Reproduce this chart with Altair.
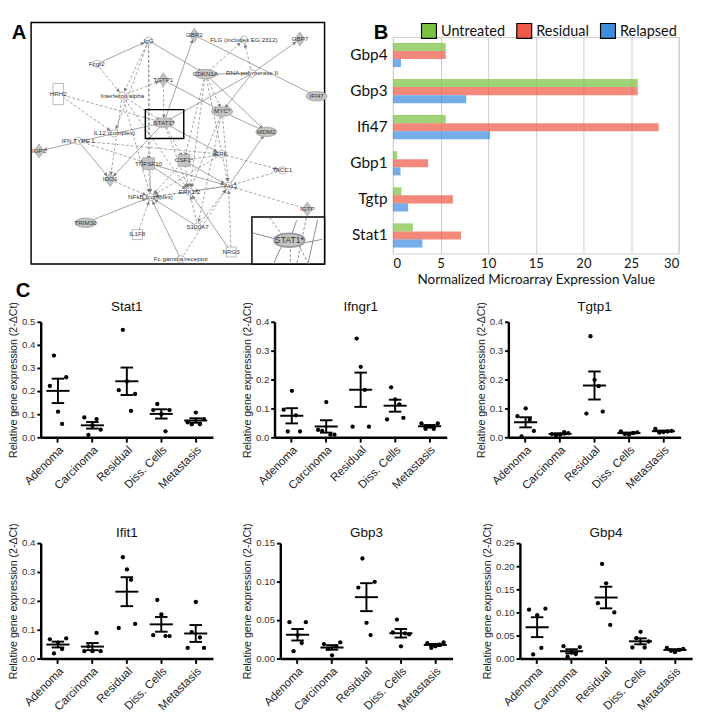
import altair as alt
import pandas as pd

FC = "Liberation Sans"
FB = "Lato"

panel_labels = ["A", "B", "C"]

# ---------------- Panel A : network ----------------
node_names = ["IgG", "GBP2", "FLG (includes EG:2312)", "GBP7", "Fcgr2", "TGTP1", "CDKN1A",
              "RNA polymerase II", "HRH2", "Interferon alpha", "IFI47", "MYC*", "STAT1*", "MDM2",
              "IL12 (complex)", "IFN TYPE 1", "IGP1", "TNFSF10", "CSF1*", "ERK", "TACC1", "IDO1",
              "ERK1/2", "Akt", "NFkB (complex)", "IGTP", "TRIM30", "S100A7", "IL1F8", "NRG3",
              "Fc gamma receptor"]
node_x = [462, 605, 760, 935, 300, 508, 640, 785, 180, 380, 987, 692, 510, 830, 355, 242, 120,
          462, 573, 690, 880, 342, 590, 712, 468, 958, 265, 615, 427, 720, 563]
node_y = [75, 58, 72, 70, 148, 198, 180, 178, 243, 248, 250, 298, 333, 362, 367, 390, 422, 462,
          452, 432, 483, 512, 550, 532, 567, 605, 648, 660, 685, 740, 763]
node_kind = ["circle", "diamond", "circle", "diamond", "circle", "diamond", "ellipse", "circle",
             "rect", "circle", "ellipse", "ellipse", "ellipse", "ellipse", "circle", "circle",
             "diamond", "square", "square", "circle", "circle", "diamond", "circle", "circle",
             "circle", "diamond", "ellipse", "circle", "box", "box", "circle"]

edges = [
    ("Fcgr2", "IgG", "s"), ("IgG", "CDKN1A", "s"), ("IgG", "Interferon alpha", "d"),
    ("IgG", "IL12 (complex)", "d"), ("IgG", "NFkB (complex)", "d"), ("IgG", "TNFSF10", "d"),
    ("Fcgr2", "Interferon alpha", "d"), ("HRH2", "STAT1*", "d"), ("HRH2", "IL12 (complex)", "d"),
    ("Interferon alpha", "TGTP1", "d"), ("Interferon alpha", "STAT1*", "d"),
    ("Interferon alpha", "IDO1", "d"), ("Interferon alpha", "NFkB (complex)", "d"),
    ("Interferon alpha", "ERK1/2", "d"), ("TGTP1", "STAT1*", "d"), ("TGTP1", "MYC*", "s"),
    ("STAT1*", "GBP2", "s"), ("IL12 (complex)", "STAT1*", "s"), ("STAT1*", "IDO1", "s"),
    ("RNA polymerase II", "STAT1*", "s"), ("STAT1*", "ERK", "s"), ("STAT1*", "CSF1*", "d"),
    ("STAT1*", "ERK1/2", "d"), ("IL12 (complex)", "IGP1", "s"), ("IFN TYPE 1", "IDO1", "s"),
    ("IFN TYPE 1", "ERK", "d"), ("IFN TYPE 1", "TNFSF10", "d"),
    ("RNA polymerase II", "CDKN1A", "s"), ("CDKN1A", "MYC*", "d"), ("CDKN1A", "CSF1*", "d"),
    ("CDKN1A", "FLG (includes EG:2312)", "d"), ("CDKN1A", "MDM2", "s"), ("CDKN1A", "Akt", "d"),
    ("CDKN1A", "ERK1/2", "d"), ("RNA polymerase II", "GBP7", "s"), ("RNA polymerase II", "MYC*", "s"),
    ("RNA polymerase II", "FLG (includes EG:2312)", "d"), ("GBP2", "IFI47", "s"),
    ("MYC*", "MDM2", "s"), ("MYC*", "Akt", "d"), ("MYC*", "ERK1/2", "d"), ("MYC*", "S100A7", "d"),
    ("Akt", "MDM2", "s"), ("ERK", "TACC1", "d"), ("ERK", "NFkB (complex)", "d"), ("CSF1*", "ERK", "d"),
    ("TACC1", "Akt", "d"), ("TNFSF10", "NFkB (complex)", "d"), ("TNFSF10", "ERK1/2", "s"),
    ("TNFSF10", "Akt", "s"), ("CSF1*", "ERK1/2", "d"), ("CSF1*", "Akt", "s"),
    ("CSF1*", "NFkB (complex)", "d"), ("IDO1", "NFkB (complex)", "d"), ("ERK1/2", "NFkB (complex)", "d"),
    ("Akt", "NFkB (complex)", "d"), ("Akt", "ERK1/2", "s"), ("IGTP", "Akt", "d"), ("NRG3", "Akt", "d"),
    ("TRIM30", "NFkB (complex)", "s"), ("IL1F8", "NFkB (complex)", "d"),
    ("Fc gamma receptor", "NFkB (complex)", "s"), ("S100A7", "NFkB (complex)", "s"),
    ("S100A7", "ERK1/2", "d"), ("NRG3", "ERK1/2", "s"), ("S100A7", "Akt", "d"),
    ("Fc gamma receptor", "Akt", "d"),
]

# frame of the network picture, STAT1 highlight box, zoom inset
box_names = ["frame", "highlight", "inset"]
box_x1 = [95, 452, 785]
box_y1 = [18, 292, 630]
box_x2 = [1012, 572, 1012]
box_y2 = [778, 383, 778]

inset_x1 = [788, 840, 925, 955, 990, 880, 930, 905, 1005]
inset_y1 = [680, 632, 640, 632, 640, 716, 716, 716, 700]
inset_x2 = [862, 882, 908, 925, 960, 852, 962, 905, 945]
inset_y2 = [700, 690, 690, 778, 778, 778, 778, 778, 712]
inset_style = ["s", "d", "s", "d", "s", "s", "d", "d", "s"]
inset_node = ["STAT1*"]
inset_node_x = [902]
inset_node_y = [703]

nodes = pd.DataFrame({"name": node_names, "x": node_x, "y": node_y, "kind": node_kind})
pos = {n: (x, y) for n, x, y in zip(node_names, node_x, node_y)}
edf = pd.DataFrame({
    "x1": [pos[a][0] for a, b, s in edges], "y1": [pos[a][1] for a, b, s in edges],
    "x2": [pos[b][0] for a, b, s in edges], "y2": [pos[b][1] for a, b, s in edges],
    "style": [s for a, b, s in edges]})
boxes = pd.DataFrame({"name": box_names, "x1": box_x1, "y1": box_y1, "x2": box_x2, "y2": box_y2})
idf = pd.DataFrame({"x1": inset_x1, "y1": inset_y1, "x2": inset_x2, "y2": inset_y2, "style": inset_style})
inode = pd.DataFrame({"name": inset_node, "x": inset_node_x, "y": inset_node_y})

# The picture frame reaches 10 px left of and 15 px above the layout cell of panel A.
AW, AH = 295, 236
XD = [95 + 10 * 917 / 305, 1012]
YD = [18 + 15 * 760 / 251, 778]
X = lambda f: alt.X(f, scale=alt.Scale(domain=XD, range=[0, AW], nice=False, zero=False), axis=None)
Y = lambda f: alt.Y(f, scale=alt.Scale(domain=YD, range=[0, AH], nice=False, zero=False), axis=None)

ELL = "M -1 0 C -1 -0.6 1 -0.6 1 0 C 1 0.6 -1 0.6 -1 0 Z"
DIA = "M 0 -1 L 0.7 0 L 0 1 L -0.7 0 Z"
TALL = "M -0.5 -1 L 0.5 -1 L 0.5 1 L -0.5 1 Z"
EC = "#8a8a8a"


def edge_layer(df, style, width=0.8):
    c = alt.Chart(df).transform_filter(alt.datum.style == style)
    if style == "d":
        m = c.mark_rule(color=EC, strokeWidth=width, strokeDash=[3, 2])
    else:
        m = c.mark_rule(color=EC, strokeWidth=width)
    return m.encode(x=X("x1:Q"), y=Y("y1:Q"), x2="x2:Q", y2="y2:Q")


arrows = alt.Chart(edf).transform_calculate(
    len="sqrt(pow(datum.x2-datum.x1,2)+pow(datum.y2-datum.y1,2))"
).transform_calculate(
    ax="datum.x2 - (datum.x2-datum.x1)/datum.len*20",
    ay="datum.y2 - (datum.y2-datum.y1)/datum.len*20",
    ang="(atan2(datum.y2-datum.y1, datum.x2-datum.x1)*180/PI + 360) % 360",
).mark_point(shape="triangle-right", filled=True, size=16, color="#777777", opacity=1).encode(
    x=X("ax:Q"), y=Y("ay:Q"), angle=alt.Angle("ang:Q", scale=None))


def node_layer(kind, shape, size, fill, stroke="#999999"):
    return alt.Chart(nodes).transform_filter(alt.datum.kind == kind).mark_point(
        shape=shape, size=size, filled=True, fill=fill, stroke=stroke, strokeWidth=0.7,
        opacity=1).encode(x=X("x:Q"), y=Y("y:Q"))


def box_layer(name, **kw):
    return alt.Chart(boxes).transform_filter(alt.datum.name == name).mark_rect(**kw).encode(
        x=X("x1:Q"), y=Y("y1:Q"), x2="x2:Q", y2="y2:Q")


node_layers = [
    node_layer("circle", "circle", 60, "white"),
    node_layer("ellipse", ELL, 480, "#c4c4c4"),
    node_layer("diamond", DIA, 210, "#c4c4c4"),
    node_layer("rect", TALL, 480, "white"),
    node_layer("box", "square", 110, "white"),
    node_layer("square", "square", 150, "#c4c4c4"),
]
node_text = alt.Chart(nodes).mark_text(fontSize=6.5, font=FC, color="#333333").encode(
    x=X("x:Q"), y=Y("y:Q"), text="name:N")
inset_node_l = alt.Chart(inode).mark_point(shape=ELL, size=1000, filled=True, fill="#c4c4c4",
                                           stroke="#999999", opacity=1).encode(x=X("x:Q"), y=Y("y:Q"))
inset_text = alt.Chart(inode).mark_text(fontSize=9, font=FC, color="#333333").encode(
    x=X("x:Q"), y=Y("y:Q"), text="name:N")
lab_df = pd.DataFrame({"t": panel_labels})
labA = alt.Chart(lab_df).transform_filter(alt.datum.t == "A").mark_text(
    align="left", baseline="top", fontSize=21, fontWeight="bold", font=FC, color="black").encode(
    text="t:N", x=alt.value(-30), y=alt.value(-15))
labC = alt.Chart(lab_df).transform_filter(alt.datum.t == "C").mark_text(
    align="left", baseline="top", fontSize=21, fontWeight="bold", font=FC, color="black").encode(
    text="t:N", x=alt.value(-26), y=alt.value(253))

panelA = alt.layer(
    box_layer("frame", fill="white", stroke="black", strokeWidth=1.5),
    edge_layer(edf, "s"), edge_layer(edf, "d"), arrows, *node_layers, node_text,
    box_layer("highlight", fillOpacity=0, stroke="black", strokeWidth=1.5),
    box_layer("inset", fill="white", stroke="black", strokeWidth=1.5),
    edge_layer(idf, "s", 1.0), edge_layer(idf, "d", 1.0), inset_node_l, inset_text,
    labA, labC
).properties(width=AW, height=AH, view=alt.ViewBackground(strokeWidth=0))

# ---------------- Panel B : bars ----------------
genes_b = ["Gbp4", "Gbp3", "Ifi47", "Gbp1", "Tgtp", "Stat1"]
groups_b = ["Untreated", "Residual", "Relapsed"]
untreated = [5.55, 25.7, 5.55, 0.45, 0.9, 2.1]
residual = [5.55, 25.7, 27.9, 3.7, 6.3, 7.15]
relapsed = [0.85, 7.7, 10.2, 0.8, 1.6, 3.1]
colors_b = ["#7CC242", "#EE5A48", "#3E8EDE"]
x_ticks_b = [0, 5, 10, 15, 20, 25, 30]

rows = []
for g, vals in zip(groups_b, [untreated, residual, relapsed]):
    for gene, v in zip(genes_b, vals):
        rows.append({"gene": gene, "group": g, "value": v})
dfb = pd.DataFrame(rows)

bars = alt.Chart(dfb).mark_bar(fillOpacity=0.72).encode(
    y=alt.Y("gene:N", sort=genes_b, scale=alt.Scale(paddingInner=0.33, paddingOuter=0.165),
            axis=alt.Axis(title=None, ticks=False, domain=False, labelFontSize=16, labelFont=FB,
                          labelColor="#111111", labelPadding=6)),
    yOffset=alt.YOffset("group:N", sort=groups_b, scale=alt.Scale(paddingInner=0, paddingOuter=0)),
    x=alt.X("value:Q", scale=alt.Scale(domain=[0, 30], nice=False),
            axis=alt.Axis(values=x_ticks_b, title="Normalized Microarray Expression Value", grid=True,
                          gridColor="#cccccc", domain=False, ticks=False, labelFontSize=13.5,
                          labelFont=FB, labelColor="#111111", labelPadding=4, titleFontSize=14,
                          titleFont=FB, titleFontWeight="normal", titleColor="#111111",
                          titlePadding=3)),
    color=alt.Color("group:N", sort=groups_b, scale=alt.Scale(domain=groups_b, range=colors_b),
                    legend=alt.Legend(orient="none", legendX=29, legendY=-15, direction="horizontal",
                                      title=None, symbolType="square", symbolSize=240,
                                      symbolStrokeColor="black", symbolStrokeWidth=1.2,
                                      symbolOpacity=1,
                                      labelFontSize=15, labelFont=FB, labelColor="#111111",
                                      columnPadding=9, labelOffset=4)),
)
labB = alt.Chart(lab_df).transform_filter(alt.datum.t == "B").mark_text(
    align="left", baseline="top", fontSize=21, fontWeight="bold", font=FC, color="black").encode(
    text="t:N", x=alt.value(-20), y=alt.value(-15))
panelB = alt.layer(bars, labB).properties(
    width=297, height=225, view=alt.ViewBackground(stroke="#cccccc", strokeWidth=1))

# ---------------- Panel C : qPCR scatter ----------------
groups = ["Adenoma", "Carcinoma", "Residual", "Diss. Cells", "Metastasis"]
stat1 = [[0.222, 0.354, 0.111, 0.058, 0.26], [0.086, 0.01, 0.051, 0.079, 0.033],
         [0.204, 0.465, 0.242, 0.114, 0.1875], [0.118, 0.144, 0.1, 0.026, 0.118],
         [0.065, 0.056, 0.107, 0.056, 0.079]]
ifngr1 = [[0.0956, 0.02, 0.161, 0.0756, 0.02], [0.0256, 0.022, 0.122, 0.009, 0.009],
          [0.0367, 0.342, 0.244, 0.164, 0.0367], [0.062, 0.173, 0.131, 0.114, 0.067],
          [0.048, 0.029, 0.037, 0.029, 0.048]]
tgtp1 = [[0.073, 0.003, 0.1, 0.061, 0.022], [0.011, 0.007, 0.009, 0.018, 0.0145],
         [0.082, 0.35, 0.199, 0.177, 0.089], [0.02, 0.011, 0.009, 0.015, 0.017],
         [0.029, 0.016, 0.018, 0.02, 0.022]]
ifit1 = [[0.0667, 0.018, 0.0556, 0.033, 0.07], [0.0256, 0.042, 0.0256, 0.089, 0.0256],
         [0.106, 0.351, 0.309, 0.273, 0.12], [0.081, 0.203, 0.153, 0.078, 0.078],
         [0.037, 0.092, 0.196, 0.073, 0.037]]
gbp3 = [[0.0473, 0.0096, 0.0306, 0.0201, 0.0473], [0.0189, 0.0126, 0.0042, 0.0159, 0.021],
        [0.0922, 0.13, 0.0465, 0.0306, 0.0997], [0.0339, 0.0507, 0.0159, 0.0327, 0.0314],
        [0.02, 0.0138, 0.0159, 0.018, 0.021]]
gbp4 = [[0.106, 0.009, 0.094, 0.023, 0.108], [0.027, 0.004, 0.013, 0.01, 0.025],
        [0.12, 0.205, 0.163, 0.073, 0.1], [0.024, 0.044, 0.058, 0.024, 0.037],
        [0.023, 0.017, 0.014, 0.019, 0.021]]
ticks_01_05 = [0, 0.1, 0.2, 0.3, 0.4, 0.5]
ticks_01_04 = [0, 0.1, 0.2, 0.3, 0.4]
ticks_005_015 = [0, 0.05, 0.10, 0.15]
ticks_005_025 = [0, 0.05, 0.10, 0.15, 0.20, 0.25]
YT = "Relative gene expression (2-ΔCt)"
PW, PH = 179, 120


def panel(title, data, ticks, fmt, title_y):
    rws = []
    for g, vals in zip(groups, data):
        for v in vals:
            rws.append({"group": g, "value": v})
    df = pd.DataFrame(rws)
    ymax = ticks[-1]
    xax = alt.Axis(title=None, labelAngle=-45, labelFontSize=12, labelFont=FC, labelColor="#222222",
                   domainColor="black", domainWidth=2.5, tickColor="black", tickWidth=2, tickSize=5,
                   labelPadding=2)
    yax = alt.Axis(title=YT, values=ticks, format=fmt, labelFontSize=10, labelFont=FC,
                   labelColor="#333333", domainColor="black", domainWidth=2.5, tickColor="black",
                   tickWidth=2, tickSize=4, grid=False, titleFont=FC, titleFontSize=11,
                   titleFontWeight="normal", titleColor="#222222", titlePadding=3, labelPadding=2)
    xenc = alt.X("group:N", sort=groups, scale=alt.Scale(domain=groups, paddingInner=0, paddingOuter=0),
                 axis=xax)
    ysc = alt.Scale(domain=[0, ymax], nice=False)
    base = alt.Chart(df)
    pts = base.transform_window(slot="row_number()", groupby=["group"]).mark_circle(
        size=20, color="black", opacity=1).encode(
        x=xenc, xOffset=alt.XOffset("slot:O", scale=alt.Scale(range=[9.5, 26.5], paddingInner=0,
                                                              paddingOuter=0)),
        y=alt.Y("value:Q", scale=ysc, axis=yax))
    agg = base.transform_aggregate(m="mean(value)", se="stderr(value)", groupby=["group"]) \
        .transform_calculate(lo="datum.m - datum.se", hi="datum.m + datum.se")
    rule = agg.mark_rule(color="black", strokeWidth=2).encode(
        x=xenc, y=alt.Y("lo:Q", scale=ysc, axis=yax), y2="hi:Q")
    cap_lo = agg.mark_tick(color="black", thickness=2, size=13, opacity=1).encode(
        x=xenc, y=alt.Y("lo:Q", scale=ysc, axis=yax))
    cap_hi = agg.mark_tick(color="black", thickness=2, size=13, opacity=1).encode(
        x=xenc, y=alt.Y("hi:Q", scale=ysc, axis=yax))
    mean = agg.mark_tick(color="black", thickness=2, size=24, opacity=1).encode(
        x=xenc, y=alt.Y("m:Q", scale=ysc, axis=yax))
    ttl = alt.Chart(pd.DataFrame({"t": [title]})).mark_text(
        fontSize=14, font=FC, color="#111111", baseline="alphabetic", align="center").encode(
        text="t:N", x=alt.value(PW / 2), y=alt.value(title_y))
    return alt.layer(pts, rule, cap_lo, cap_hi, mean, ttl).properties(width=PW, height=PH)


row1 = alt.hconcat(panel("Stat1", stat1, ticks_01_05, ".1f", -11),
                   panel("Ifngr1", ifngr1, ticks_01_04, ".1f", -11),
                   panel("Tgtp1", tgtp1, ticks_01_04, ".1f", -11), spacing=30)
row2 = alt.hconcat(panel("Ifit1", ifit1, ticks_01_04, ".1f", -6),
                   panel("Gbp3", gbp3, ticks_005_015, ".2f", -6),
                   panel("Gbp4", gbp4, ticks_005_025, ".2f", -6), spacing=30)
bottom = alt.vconcat(row1, row2, spacing=32)
top = alt.hconcat(panelA, panelB, spacing=20).resolve_scale(color="independent")

chart = alt.vconcat(top, bottom, spacing=0).resolve_scale(color="independent").properties(
    padding={"left": 0, "top": 0, "right": 4, "bottom": 2},
    background="white",
).configure_view(strokeWidth=0)

chart.save("out.html", embed_options={"renderer": "svg", "actions": False})
